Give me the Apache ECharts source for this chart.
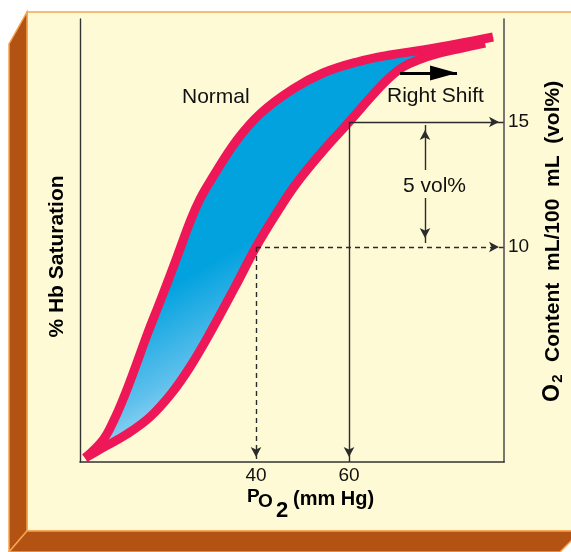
<!DOCTYPE html>
<html><head><meta charset="utf-8">
<script src="https://cdn.jsdelivr.net/npm/echarts@6/dist/echarts.min.js"></script>
<style>html,body{margin:0;padding:0;background:#fff}#c{width:571px;height:552px}</style>
</head><body><div id="c"></div>
<script>
// O2 dissociation curves: PO2 (mm Hg) vs O2 content (vol%)
const normalPO2 = [3.23, 7.10, 9.46, 11.61, 13.98, 16.56, 19.50, 23.01, 25.96, 27.96, 30.32, 35.91, 41.08, 47.96, 54.41, 61.72, 68.82, 75.91, 83.23, 90.97];
const normalO2  = [1.56, 2.28, 3.08, 4.00, 5.16, 6.48, 7.88, 9.60, 11.08, 11.92, 12.68, 14.28, 15.36, 16.32, 16.96, 17.40, 17.68, 17.88, 18.12, 18.40];
const shiftPO2  = [3.23, 5.81, 12.26, 17.20, 21.88, 25.80, 30.11, 35.48, 40.00, 44.30, 48.60, 54.19, 60.00, 64.52, 68.39, 71.61, 74.84, 79.57, 84.30, 89.25];
const shiftO2   = [1.56, 1.84, 2.52, 3.20, 4.16, 5.20, 6.56, 8.40, 10.00, 11.32, 12.52, 13.80, 15.00, 15.96, 16.72, 17.20, 17.48, 17.76, 17.96, 18.16];
const xTicks = [40, 60];
const yTicks = [10, 15];
const xRange = [2.15, 93.33];
const yRange = [1.4, 19.12];
const volArrowX = 76.34;
const volArrowUp = [13.08, 14.88];
const volArrowDown = [11.96, 10.16];
const shiftArrowX = [70.97, 83.23];
const shiftArrowY = 16.96;

const FONT = 'Liberation Sans';
const RED = '#EE1758';
const normalData = normalPO2.map((x, i) => [x, normalO2[i]]);
const shiftData = shiftPO2.map((x, i) => [x, shiftO2[i]]);

const chart = echarts.init(document.getElementById('c'), null, {renderer: 'canvas'});
const guideStyle = {color: '#2b2b2b', width: 1.4};
const arrowEnd = {symbol: ['none', 'arrow'], symbolSize: [8, 10], symbolOffset: [0, [0, 5]]};
const SMOOTH = 0.4;

chart.setOption({
  animation: false,
  backgroundColor: '#ffffff',
  graphic: [
    {type: 'rect', z: -10, shape: {x: 27, y: 12, width: 570, height: 519},
     style: {fill: '#FFFAD6', stroke: '#F7A552', lineWidth: 1.5}},
    {type: 'polygon', z: -9, shape: {points: [[9, 44], [27, 12], [27, 531], [9, 552]]},
     style: {fill: '#B25313', stroke: '#F6A24E', lineWidth: 1.5}},
    {type: 'polygon', z: -9, shape: {points: [[9, 552], [27, 531], [581, 531], [560, 552]]},
     style: {fill: '#B25313', stroke: '#F6A24E', lineWidth: 1.5}},
    {type: 'text', x: 182, y: 97.5, style: {text: 'Normal', font: '21px ' + FONT, fill: '#111', align: 'left', verticalAlign: 'middle'}},
    {type: 'text', x: 387, y: 96, style: {text: 'Right Shift', font: '21px ' + FONT, fill: '#111', align: 'left', verticalAlign: 'middle'}},
    {type: 'text', x: 403, y: 186, style: {text: '5 vol%', font: '21px ' + FONT, fill: '#111', align: 'left', verticalAlign: 'middle'}},
    {type: 'text', x: 57, y: 256.5, rotation: Math.PI / 2,
     style: {text: '% Hb Saturation', font: 'bold 21px ' + FONT, fill: '#000', align: 'center', verticalAlign: 'middle'}},
    {type: 'text', x: 553, y: 393, rotation: Math.PI / 2,
     style: {text: 'O', font: 'bold 23px ' + FONT, fill: '#000', align: 'center', verticalAlign: 'middle'}},
    {type: 'text', x: 558, y: 378.5, rotation: Math.PI / 2,
     style: {text: '2', font: 'bold 15px ' + FONT, fill: '#000', align: 'center', verticalAlign: 'middle'}},
    {type: 'text', x: 553, y: 362, rotation: Math.PI / 2,
     style: {text: 'Content  mL/100  mL  (vol%)', font: 'bold 21px ' + FONT, fill: '#000', align: 'left', verticalAlign: 'middle'}},
    {type: 'text', x: 247, y: 497, style: {text: 'P', font: 'bold 19px ' + FONT, fill: '#000', align: 'left', verticalAlign: 'middle'}},
    {type: 'text', x: 258, y: 502, style: {text: 'O', font: 'bold 19px ' + FONT, fill: '#000', align: 'left', verticalAlign: 'middle'}},
    {type: 'text', x: 276, y: 510.5, style: {text: '2', font: 'bold 22px ' + FONT, fill: '#000', align: 'left', verticalAlign: 'middle'}},
    {type: 'text', x: 293, y: 499, style: {text: '(mm Hg)', font: 'bold 20px ' + FONT, fill: '#000', align: 'left', verticalAlign: 'middle'}}
  ],
  grid: {left: 80, right: 67, top: 19, bottom: 90, containLabel: false, outerBoundsMode: 'none'},
  xAxis: {
    type: 'value', min: xRange[0], max: xRange[1], z: 5,
    axisLine: {show: true, onZero: false, lineStyle: {color: '#333', width: 1.6}},
    axisTick: {show: false}, splitLine: {show: false},
    axisLabel: {customValues: xTicks, fontSize: 19, fontFamily: FONT, color: '#111', margin: 4}
  },
  yAxis: [
    {type: 'value', min: yRange[0], max: yRange[1], position: 'left', z: 5,
     axisLine: {show: true, onZero: false, lineStyle: {color: '#333', width: 1.4}},
     axisTick: {show: false}, splitLine: {show: false}, axisLabel: {show: false}},
    {type: 'value', min: yRange[0], max: yRange[1], position: 'right', z: 5,
     axisLine: {show: true, onZero: false, lineStyle: {color: '#555', width: 1.6}},
     axisTick: {show: false}, splitLine: {show: false},
     axisLabel: {customValues: yTicks, fontSize: 19, fontFamily: FONT, color: '#111', margin: 4}}
  ],
  series: [
    {
      type: 'custom', name: 'shift area', z: 2, silent: true,
      data: [[xRange[0], yRange[0]]],
      renderItem: function (params, api) {
        const pts = [];
        for (let i = 0; i < normalData.length; i++) pts.push(api.coord(normalData[i]));
        for (let i = shiftData.length - 1; i >= 1; i--) pts.push(api.coord(shiftData[i]));
        return {
          type: 'polygon', shape: {points: pts, smooth: SMOOTH},
          style: {fill: new echarts.graphic.LinearGradient(0.3, 0.95, 0.12, 0.64, [
            {offset: 0, color: '#c8e8f8'}, {offset: 0.45, color: '#5fc0ec'}, {offset: 1, color: '#02a2df'}
          ])}
        };
      }
    },
    {type: 'line', name: 'Normal', z: 3, data: normalData, smooth: SMOOTH, showSymbol: false, silent: true,
     lineStyle: {color: RED, width: 9, join: 'round'}},
    {type: 'line', name: 'Right Shift', z: 3, data: shiftData, smooth: SMOOTH, showSymbol: false, silent: true,
     lineStyle: {color: RED, width: 9, join: 'round'}},
    {type: 'line', name: 'dashed guides', z: 4, data: [], silent: true,
     markLine: Object.assign({silent: true, animation: false, label: {show: false},
       lineStyle: Object.assign({type: [5, 4]}, guideStyle), emphasis: {disabled: true},
       data: [
         [{coord: [xTicks[0], yTicks[0]]}, {coord: [xTicks[0], yRange[0]]}],
         [{coord: [xTicks[0], yTicks[0]]}, {coord: [xRange[1], yTicks[0]]}]
       ]}, arrowEnd)},
    {type: 'line', name: 'solid guides', z: 4, data: [], silent: true,
     markLine: Object.assign({silent: true, animation: false, label: {show: false},
       lineStyle: Object.assign({type: 'solid'}, guideStyle), emphasis: {disabled: true},
       data: [
         [{coord: [xTicks[1], yTicks[1]]}, {coord: [xTicks[1], yRange[0]]}],
         [{coord: [xTicks[1], yTicks[1]]}, {coord: [xRange[1], yTicks[1]]}],
         [{coord: [volArrowX, volArrowUp[0]]}, {coord: [volArrowX, volArrowUp[1]]}],
         [{coord: [volArrowX, volArrowDown[0]]}, {coord: [volArrowX, volArrowDown[1]]}]
       ]}, arrowEnd)},
    {type: 'line', name: 'shift arrow', z: 4, data: [], silent: true,
     markLine: {silent: true, animation: false, label: {show: false}, emphasis: {disabled: true},
       symbol: ['none', 'triangle'], symbolSize: [15, 27], symbolOffset: [0, [0, 13.5]],
       lineStyle: {color: '#000', width: 3, type: 'solid'},
       itemStyle: {color: '#000'},
       data: [[{coord: [shiftArrowX[0], shiftArrowY]}, {coord: [shiftArrowX[1], shiftArrowY]}]]}}
  ]
});
</script></body></html>
